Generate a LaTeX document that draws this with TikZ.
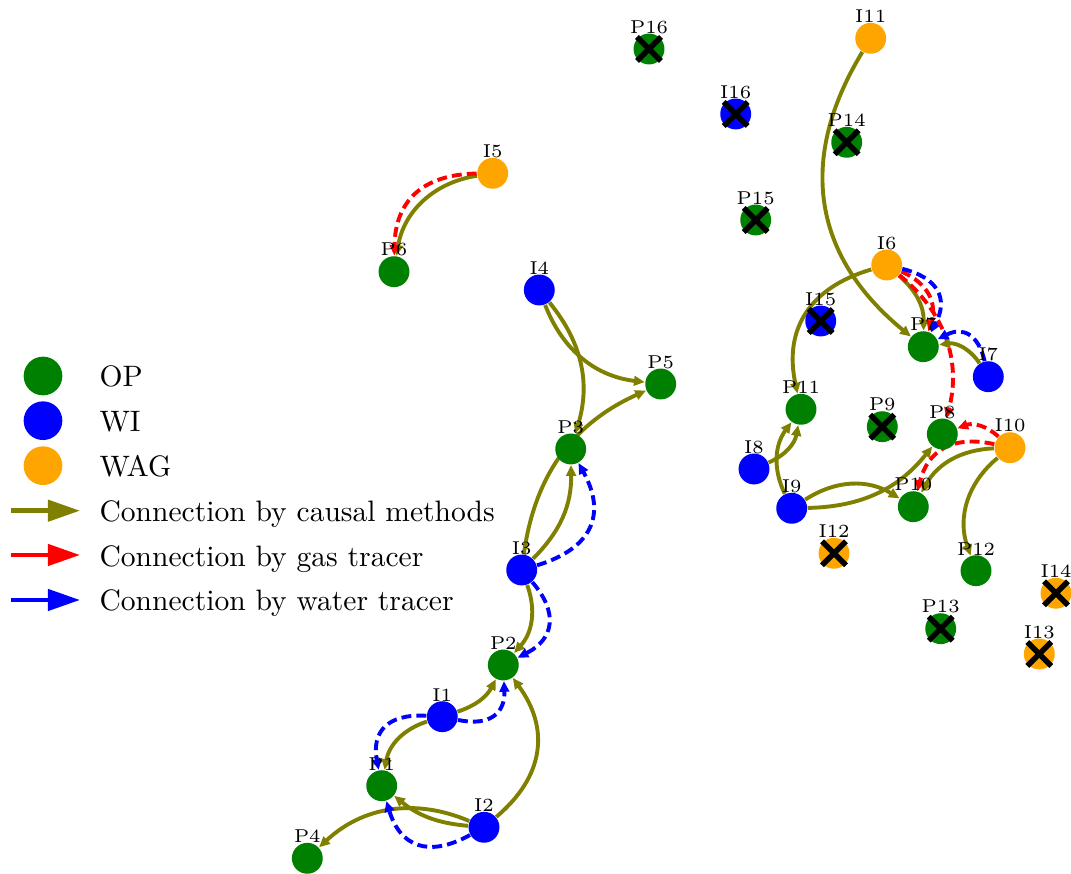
\documentclass[tikz,border=0pt]{standalone}
\usetikzlibrary{arrows.meta, backgrounds}
\definecolor{opgreen}{RGB}{0,128,0}
\definecolor{wiblue}{RGB}{0,0,255}
\definecolor{wagorange}{RGB}{255,165,0}
\definecolor{causalc}{RGB}{128,128,0}
\newcommand{\wellfont}{\fontsize{6.2}{7}\selectfont}
\newcommand{\keyfont}{\fontsize{9.85}{12}\selectfont}

\begin{document}
\begin{tikzpicture}[
    x=0.3333pt, y=0.3333pt,
    well/.style={circle, minimum size=10.3pt, inner sep=0pt},
    op/.style={well, fill=opgreen},
    wi/.style={well, fill=wiblue},
    wag/.style={well, fill=wagorange},
    every label/.style={font=\wellfont, inner sep=0pt},
    label distance=-0.4pt,
    causal/.style={draw=causalc, line width=1.3pt, -{Triangle[length=3.6pt,width=3.2pt]}},
    gas/.style={causal, draw=red, dash pattern=on 3.3pt off 1.7pt},
    water/.style={causal, draw=wiblue, dash pattern=on 3.3pt off 1.7pt},
    shut/.style={black, line width=1.8pt},
    keydot/.style={circle, minimum size=12.9pt, inner sep=0pt},
    keytext/.style={anchor=base west, inner sep=0pt, font=\keyfont},
    keyline/.style={line width=1.5pt, -{Triangle[length=10.7pt,width=7pt]}}
    ]
    \useasboundingbox (0,0) rectangle (1071,-874);

    % producers
    \node[op, label=above:P1] (P1) at (381.7,-785.7) {};
    \node[op, label=above:P2] (P2) at (503.3,-665) {};
    \node[op, label=above:P3] (P3) at (570.7,-449) {};
    \node[op, label=above:P4] (P4) at (307.3,-858.3) {};
    \node[op, label=above:P5] (P5) at (660.7,-384) {};
    \node[op, label=above:P6] (P6) at (394,-271.7) {};
    \node[op, label=above:P7] (P7) at (923.3,-346.7) {};
    \node[op, label=above:P8] (P8) at (942.3,-434) {};
    \node[op, label=above:P9] (P9) at (882.3,-426.7) {};
    \node[op, label=above:P10] (P10) at (913.3,-506.7) {};
    \node[op, label=above:P11] (P11) at (801,-409.3) {};
    \node[op, label=above:P12] (P12) at (976,-570.7) {};
    \node[op, label=above:P13] (P13) at (940.7,-628.7) {};
    \node[op, label=above:P14] (P14) at (846.7,-142.3) {};
    \node[op, label=above:P15] (P15) at (755.7,-220) {};
    \node[op, label=above:P16] (P16) at (649,-49) {};

    % water injectors
    \node[wi, label=above:I1] (I1) at (442.3,-716.7) {};
    \node[wi, label=above:I2] (I2) at (484,-827.3) {};
    \node[wi, label=above:I3] (I3) at (521.7,-570) {};
    \node[wi, label=above:I4] (I4) at (539.3,-290) {};
    \node[wi, label=above:I7] (I7) at (988.3,-376.7) {};
    \node[wi, label=above:I8] (I8) at (754,-469) {};
    \node[wi, label=above:I9] (I9) at (791.7,-508.3) {};
    \node[wi, label=above:I15] (I15) at (820.7,-321) {};
    \node[wi, label=above:I16] (I16) at (735.7,-114) {};

    % WAG injectors
    \node[wag, label=above:I5] (I5) at (492.7,-173.3) {};
    \node[wag, label=above:I6] (I6) at (886.7,-265) {};
    \node[wag, label=above:I10] (I10) at (1010,-447.7) {};
    \node[wag, label=above:I11] (I11) at (870.7,-38.3) {};
    \node[wag, label=above:I12] (I12) at (834,-553.3) {};
    \node[wag, label=above:I13] (I13) at (1039.3,-654) {};
    \node[wag, label=above:I14] (I14) at (1056,-593.3) {};

    % shut-in wells
    \foreach \w in {P9,P13,P14,P15,P16,I12,I13,I14,I15,I16}
        \draw[shut] (\w.center) +(-12,-12) -- +(12,12) +(-12,12) -- +(12,-12);

    \begin{scope}[on background layer]
        \draw[causal] (I11) to[bend right=41, looseness=1.12] (P7);
        \draw[causal] (I5) to[bend right=36] (P6);
        \draw[gas] (I5) to[bend right=44, looseness=1.2] (P6);
        \draw[causal] (I4) to[bend right=31] (P5);
        \draw[causal] (I4) to[bend left=28] (P3);
        \draw[causal] (I3) to[bend left=29] (P5);
        \draw[causal] (I3) to[bend right=23] (P3);
        \draw[water] (I3) to[bend right=51, looseness=1.35] (P3);
        \draw[causal] (I3) to[bend left=31] (P2);
        \draw[water] (I3) to[bend left=52, looseness=1.35] (P2);
        \draw[causal] (I1) to[bend right=22] (P2);
        \draw[water] (I1) to[bend right=52, looseness=1.38] (P2);
        \draw[causal] (I1) to[bend right=31] (P1);
        \draw[water] (I1) to[bend right=52, looseness=1.38] (P1);
        \draw[causal] (I2) to[bend right=43, looseness=1.15] (P2);
        \draw[causal] (I2) to[bend left=17] (P1);
        \draw[causal] (I2) to[bend right=33] (P4);
        \draw[water] (I2) to[bend left=51, looseness=1.35] (P1);
        \draw[causal] (I6) to[bend right=43, looseness=1.15] (P11);
        \draw[causal] (I6) to[bend left=25] (P7);
        \draw[gas] (I6) to[bend left=42, looseness=1.15] (P7);
        \draw[water] (I6) to[bend left=52, looseness=1.38] (P7);
        \draw[gas] (I6) to[bend left=33] (P8);
        \draw[causal] (I7) to[bend right=32] (P7);
        \draw[water] (I7) to[bend right=52, looseness=1.38] (P7);
        \draw[gas] (I10) to[bend right=32] (P8);
        \draw[gas] (I10) to[bend right=44, looseness=1.2] (P10);
        \draw[causal] (I10) to[bend right=29] (P10);
        \draw[causal] (I10) to[bend right=35] (P12);
        \draw[causal] (I9) to[bend right=25] (P8);
        \draw[causal] (I9) to[bend left=32] (P10);
        \draw[causal] (I9) to[bend left=31] (P11);
        \draw[causal] (I8) to[bend right=28] (P11);
    \end{scope}

    % legend
    \node[keydot, fill=opgreen] (kop) at (43,-376) {};
    \node[keydot, fill=wiblue] (kwi) at (43,-420.7) {};
    \node[keydot, fill=wagorange] (kwag) at (43,-465.7) {};
    \node[keytext] (top) at (99,-387) {OP};
    \node[keytext] (twi) at (99,-432) {WI};
    \node[keytext] (twag) at (99,-477) {WAG};
    \node[keytext] (tcausal) at (99,-522) {Connection by causal methods};
    \node[keytext] (tgas) at (99,-566.5) {Connection by gas tracer};
    \node[keytext] (twater) at (99,-611) {Connection by water tracer};
    \coordinate (kc1) at (11,-510.7);
    \coordinate (kc2) at (80,-510.7);
    \coordinate (kg1) at (11,-555);
    \coordinate (kg2) at (80,-555);
    \coordinate (kw1) at (11,-600);
    \coordinate (kw2) at (80,-600);
    \draw[keyline, draw=causalc] (kc1) -- (kc2);
    \draw[keyline, draw=red] (kg1) -- (kg2);
    \draw[keyline, draw=wiblue] (kw1) -- (kw2);
\end{tikzpicture}
\end{document}
